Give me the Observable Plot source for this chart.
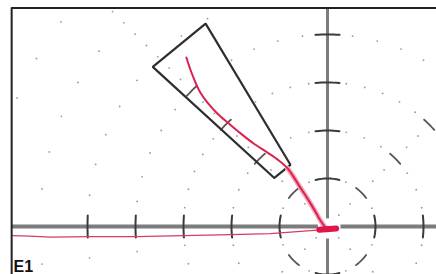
<!DOCTYPE html>
<html><head><meta charset="utf-8">
<script src="https://cdn.jsdelivr.net/npm/d3@7"></script>
<script src="https://cdn.jsdelivr.net/npm/@observablehq/plot@0.6"></script>
<style>html,body{margin:0;padding:0;background:#fff;overflow:hidden}</style>
</head><body><div id="chart"></div>
<script>
// ---- data (units = grid divisions, origin at the cross) ----
const gridRadii = [1, 2, 3, 4, 5, 6, 7, 8];
const dashRadii = [1, 2, 3, 4];
const xTickValues = [-5, -4, -3, -2, -1, 1, 2];
const yTickValues = [-1, 1, 2, 3, 4];
const wedgeAngles = [121, 137.6];
const wedgeRadii = [1.5, 4.93];
const traceX = [-2.94, -2.85, -2.75, -2.65, -2.50, -2.29, -2.06, -1.81, -1.54, -1.25, -1.02, -0.83, -0.71, -0.58, -0.46, -0.33, -0.23, -0.15, -0.06, 0.0];
const traceY = [3.52, 3.25, 3.00, 2.79, 2.58, 2.35, 2.15, 1.94, 1.73, 1.54, 1.38, 1.21, 1.04, 0.83, 0.65, 0.44, 0.27, 0.13, 0.0, -0.05];
const baseX = [0.0, -0.56, -1.19, -2.02, -3.0, -4.0, -4.94, -5.77, -6.2, -6.56];
const baseY = [-0.06, -0.10, -0.15, -0.17, -0.19, -0.21, -0.21, -0.22, -0.20, -0.19];
const blobX = [-0.17, 0.18];
const blobY = [-0.07, -0.04];
const labelText = "E1";
const frameLeft = -6.58, frameTop = 4.55;

// ---- helpers ----
const xDom = [-6.8125, 2.2708], yDom = [-1.0, 4.7083];
const rad = d => d * Math.PI / 180;
const pol = (r, deg) => ({x: r * Math.cos(rad(deg)), y: r * Math.sin(rad(deg))});
const inside = p => p.x > frameLeft + 0.03 && p.y < frameTop - 0.03 && p.x < xDom[1] && p.y > yDom[0];
function arc(r, deg, halfLen, id) {
  const h = halfLen / r * 180 / Math.PI, pts = [];
  for (let i = 0; i <= 8; i++) { const p = pol(r, deg - h + 2 * h * i / 8); p.id = id; pts.push(p); }
  return pts;
}
// circle dots
const circleDots = [];
for (const r of gridRadii) {
  const step = r === 1 ? 22.5 : r === 2 ? 11.25 : 7.5;
  for (let a = step; a < 360; a += step) {
    if (Math.abs(a / 45 - Math.round(a / 45)) < 0.05) continue;
    const p = pol(r, a); if (inside(p)) circleDots.push(p);
  }
}
// diagonal dots and dashes
const diagDots = [], dashes = [];
for (const a of [45, 135, 225, 315]) {
  for (let k = 1; k <= 27; k++) {
    if (k % 3 === 0 && k / 3 <= 4) continue;
    const p = pol(k / 3, a); if (inside(p)) diagDots.push(p);
  }
  for (const r of dashRadii) {
    if (inside(pol(r, a))) dashes.push(...arc(r, a, 0.15, `d${a}_${r}`));
  }
}
// axis ticks as arcs
const ticks = [];
for (const v of xTickValues) ticks.push(...arc(Math.abs(v), v > 0 ? 0 : 180, 0.23, `x${v}`));
for (const v of yTickValues) ticks.push(...arc(Math.abs(v), v > 0 ? 90 : 270, 0.25, `y${v}`));
// axis segments
const axes = [
  {x1: frameLeft, x2: -0.2, y1: 0, y2: 0, w: 4},
  {x1: 0.27, x2: xDom[1], y1: 0, y2: 0, w: 4},
  {x1: 0, x2: 0, y1: 0.17, y2: frameTop, w: 3},
  {x1: 0, x2: 0, y1: -0.25, y2: yDom[0], w: 3}
];
// wedge polygon
const wedge = [pol(wedgeRadii[0], wedgeAngles[1]), pol(wedgeRadii[1], wedgeAngles[1]),
               pol(wedgeRadii[1], wedgeAngles[0]), pol(wedgeRadii[0], wedgeAngles[0]),
               pol(wedgeRadii[0], wedgeAngles[1])];
const trace = traceX.map((x, i) => ({x, y: traceY[i]}));
const base = baseX.map((x, i) => ({x, y: baseY[i]}));
const blob = blobX.map((x, i) => ({x, y: blobY[i]}));

const chart = Plot.plot({
  width: 436, height: 274, margin: 0,
  x: {domain: xDom, axis: null}, y: {domain: yDom, axis: null},
  style: {background: "#fff"},
  marks: [
    Plot.dot(circleDots, {x: "x", y: "y", r: 0.9, fill: "#9a9a9a", stroke: "none"}),
    Plot.line(wedge, {x: "x", y: "y", fill: "#fff", stroke: "none"}),
    Plot.dot(diagDots, {x: "x", y: "y", r: 0.9, fill: "#9a9a9a", stroke: "none"}),
    Plot.line(dashes, {x: "x", y: "y", z: "id", stroke: "#555", strokeWidth: 1.8}),
    Plot.link(axes, {x1: "x1", x2: "x2", y1: "y1", y2: "y2", stroke: "#7c7c7c", strokeWidth: d => d.w}),
    Plot.line(ticks, {x: "x", y: "y", z: "id", stroke: "#3a3a3a", strokeWidth: 2}),
    Plot.line(wedge, {x: "x", y: "y", stroke: "#2e2e2e", strokeWidth: 2.2, strokeLinejoin: "miter"}),
    Plot.line(trace.slice(11), {x: "x", y: "y", stroke: "#f1a9bb", strokeWidth: 5, curve: "catmull-rom"}),
    Plot.line(trace, {x: "x", y: "y", stroke: "#d9224e", strokeWidth: 2, curve: "catmull-rom"}),
    Plot.line(base, {x: "x", y: "y", stroke: "#dc3a60", strokeWidth: 1.2}),
    Plot.line(blob, {x: "x", y: "y", stroke: "#e0154a", strokeWidth: 6}),
    Plot.ruleX([frameLeft], {y1: frameTop, y2: yDom[0], stroke: "#222", strokeWidth: 2}),
    Plot.ruleY([frameTop], {x1: frameLeft, x2: xDom[1], stroke: "#222", strokeWidth: 2}),
    Plot.text([labelText], {frameAnchor: "bottom-left", dx: 13, dy: -3, textAnchor: "start", lineAnchor: "bottom",
      fontSize: 16, fontWeight: "bold", fill: "#111", fontFamily: "Liberation Sans, Arial, sans-serif"})
  ]
});
document.getElementById("chart").appendChild(chart);
</script>
</body></html>
